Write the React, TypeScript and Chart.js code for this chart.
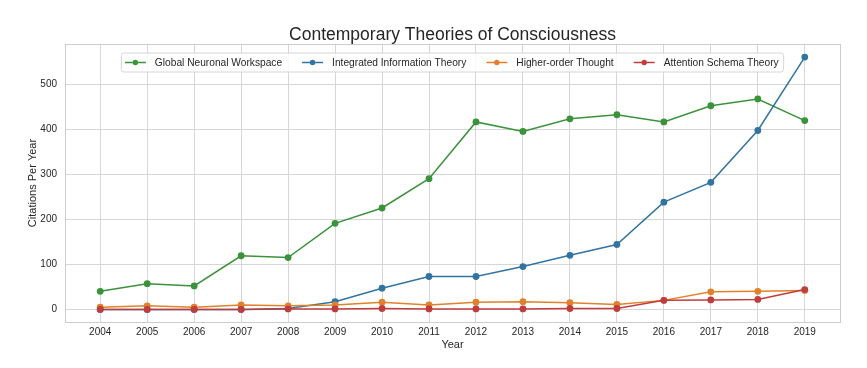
import React, { useEffect, useRef } from 'react';
import { Chart, registerables } from 'chart.js';

Chart.register(...registerables);

const years = [2004, 2005, 2006, 2007, 2008, 2009, 2010, 2011, 2012, 2013, 2014, 2015, 2016, 2017, 2018, 2019];
const gnw = [40, 57, 52, 119, 115, 191, 225, 290, 416, 395, 423, 432, 416, 452, 467, 419];
const iit = [0, 0, 0, 0, 2, 17, 47, 73, 73, 95, 120, 144, 238, 282, 397, 560];
const hot = [5, 8, 5, 10, 8, 10, 16, 10, 16, 17, 15, 11, 20, 39, 40, 42];
const ast = [0, 0, 0, 0, 1, 1, 2, 1, 1, 1, 2, 2, 20, 21, 22, 44];
const yTicks = [0, 100, 200, 300, 400, 500];
const seriesNames = ['Global Neuronal Workspace', 'Integrated Information Theory', 'Higher-order Thought', 'Attention Schema Theory'];
const seriesColors = ['#3a923a', '#3274a1', '#e1812c', '#c03d3e'];
const seriesData = [gnw, iit, hot, ast];
const chartTitle = 'Contemporary Theories of Consciousness';

const FONT = '"Liberation Sans", Arial, sans-serif';
const TEXT = '#262626';

const borderPlugin = {
  id: 'axesBorder',
  beforeDatasetsDraw(chart: any) {
    const { ctx, chartArea: a } = chart;
    ctx.save();
    ctx.strokeStyle = '#cccccc';
    ctx.lineWidth = 1;
    ctx.strokeRect(Math.round(a.left) + 0.5, Math.round(a.top) + 0.5, Math.round(a.right - a.left), Math.round(a.bottom - a.top));
    ctx.restore();
  },
};

const titlePlugin = {
  id: 'axesTitle',
  afterDraw(chart: any) {
    const { ctx, chartArea: a } = chart;
    ctx.save();
    ctx.font = `17.5px ${FONT}`;
    ctx.fillStyle = TEXT;
    ctx.textAlign = 'center';
    ctx.textBaseline = 'alphabetic';
    ctx.fillText(chartTitle, (a.left + a.right) / 2, a.top - 4.5);
    ctx.restore();
  },
};

const legendPlugin = {
  id: 'innerLegend',
  afterDraw(chart: any) {
    const { ctx, chartArea: a } = chart;
    ctx.save();
    ctx.font = `10.2px ${FONT}`;
    const widths = seriesNames.map((n) => ctx.measureText(n).width);
    const lineLen = 21, gapText = 9, gapItem = 20, padL = 3.5, padR = 5;
    const total = padL + widths.reduce((s, w) => s + lineLen + gapText + w, 0) + gapItem * (seriesNames.length - 1) + padR;
    const cx = (a.left + a.right) / 2;
    const left = cx - total / 2;
    const top = a.top + 9;
    const h = 19;
    ctx.beginPath();
    const r = 2.5;
    ctx.moveTo(left + r, top);
    ctx.lineTo(left + total - r, top);
    ctx.quadraticCurveTo(left + total, top, left + total, top + r);
    ctx.lineTo(left + total, top + h - r);
    ctx.quadraticCurveTo(left + total, top + h, left + total - r, top + h);
    ctx.lineTo(left + r, top + h);
    ctx.quadraticCurveTo(left, top + h, left, top + h - r);
    ctx.lineTo(left, top + r);
    ctx.quadraticCurveTo(left, top, left + r, top);
    ctx.closePath();
    ctx.fillStyle = 'rgba(255,255,255,0.85)';
    ctx.fill();
    ctx.strokeStyle = '#d6d6d6';
    ctx.lineWidth = 1;
    ctx.stroke();
    let x = left + padL;
    const cy = top + h / 2;
    seriesNames.forEach((name, i) => {
      ctx.strokeStyle = seriesColors[i];
      ctx.lineWidth = 1.5;
      ctx.beginPath();
      ctx.moveTo(x, cy);
      ctx.lineTo(x + lineLen, cy);
      ctx.stroke();
      ctx.fillStyle = seriesColors[i];
      ctx.beginPath();
      ctx.arc(x + lineLen / 2, cy, 2.7, 0, Math.PI * 2);
      ctx.fill();
      ctx.fillStyle = TEXT;
      ctx.textBaseline = 'middle';
      ctx.textAlign = 'left';
      ctx.fillText(name, x + lineLen + gapText, cy + 0.5);
      x += lineLen + gapText + widths[i] + gapItem;
    });
    ctx.restore();
  },
};

export default function App() {
  const ref = useRef<HTMLCanvasElement | null>(null);
  useEffect(() => {
    if (!ref.current) return;
    const chart = new Chart(ref.current, {
      type: 'line',
      data: {
        datasets: seriesNames.map((name, i) => ({
          label: name,
          data: years.map((y, j) => ({ x: y, y: seriesData[i][j] })),
          borderColor: seriesColors[i],
          backgroundColor: seriesColors[i],
          pointBackgroundColor: seriesColors[i],
          pointBorderColor: seriesColors[i],
          borderWidth: 1.5,
          pointRadius: 3.4,
          pointBorderWidth: 0,
          tension: 0,
          order: seriesNames.length - i,
        })),
      },
      options: {
        responsive: false,
        animation: false,
        layout: { padding: { left: 0, right: 27, top: 44, bottom: 0 } },
        plugins: {
          legend: { display: false },
          tooltip: { enabled: false },
          title: { display: false },
        },
        scales: {
          x: {
            type: 'linear',
            min: 2003.25,
            max: 2019.75,
            afterBuildTicks: (scale: any) => {
              scale.ticks = years.map((v) => ({ value: v }));
            },
            afterFit: (scale: any) => {
              scale.height = 46;
            },
            grid: { color: '#d6d6d6', drawTicks: false },
            border: { display: false },
            ticks: {
              color: TEXT,
              font: { family: FONT, size: 10 },
              padding: 4,
              maxRotation: 0,
              autoSkip: false,
              callback: (v: any) => String(v),
            },
            title: {
              display: true,
              text: 'Year',
              color: TEXT,
              font: { family: FONT, size: 11 },
              padding: { top: 0, bottom: 16.4 },
            },
          },
          y: {
            type: 'linear',
            min: -28,
            max: 589,
            afterBuildTicks: (scale: any) => {
              scale.ticks = yTicks.map((v) => ({ value: v }));
            },
            afterFit: (scale: any) => {
              scale.width = 65;
            },
            grid: { color: '#d6d6d6', drawTicks: false },
            border: { display: false },
            ticks: {
              color: TEXT,
              font: { family: FONT, size: 10 },
              padding: 8,
              callback: (v: any) => String(v),
            },
            title: {
              display: true,
              text: 'Citations Per Year',
              color: TEXT,
              font: { family: FONT, size: 11 },
              padding: { top: 26.4, bottom: 0 },
            },
          },
        },
      },
      plugins: [borderPlugin, titlePlugin, legendPlugin],
    } as any);
    return () => chart.destroy();
  }, []);
  return (
    <div style={{ position: 'fixed', left: 0, top: 0, width: 867, height: 368, background: '#fff' }}>
      <canvas ref={ref} width={867} height={368} />
    </div>
  );
}
